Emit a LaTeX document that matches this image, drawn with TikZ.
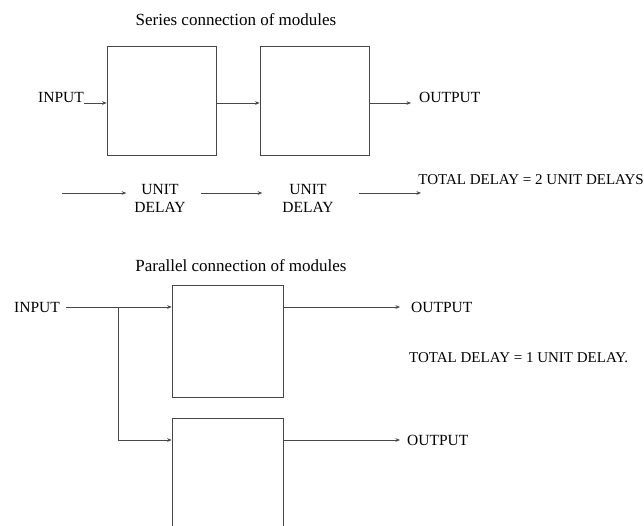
\documentclass[tikz,border=0pt]{standalone}
\usepackage{fontspec}
\setmainfont{Liberation Serif}
\usepackage{tikz}
\usetikzlibrary{arrows.meta,positioning,calc}
\definecolor{scanline}{rgb}{0.28,0.28,0.28}
\tikzset{
  modbox/.style={draw=scanline, line width=0.7pt, inner sep=0pt, minimum width=109pt, minimum height=109pt},
  sig/.style={draw=scanline, line width=0.7pt, -{Stealth[length=1.6mm,width=1.3mm]}},
  lbl/.style={inner sep=0pt, font=\fontsize{15.5}{18}\selectfont},
  ttl/.style={inner sep=0pt, font=\fontsize{17}{20}\selectfont},
}

\begin{document}
\begin{tikzpicture}[x=1pt, y=-1pt]
        \useasboundingbox (0,0) rectangle (644,525);
        \clip (0,0) rectangle (644,525);

        % series connection
        \node[ttl] (sertitle) at (236,20) {Series connection of modules};
        \node[modbox] (s1) at (161.5,100.5) {};
        \node[modbox] (s2) at (314.5,100.5) {};
        \node[lbl, anchor=east] (inS) at (84,97) {INPUT};
        \node[lbl, anchor=west] (outS) at (419,97) {OUTPUT};
        \coordinate (sy) at (0,103);

        \draw[sig] (inS.east |- sy) -- (s1.west |- sy);
        \draw[sig] (s1.east |- sy) -- (s2.west |- sy);
        \draw[sig] (s2.east |- sy) -- ([xshift=-8pt]outS.west |- sy);

        \node[lbl, align=center] (ud1) at (160,198) {UNIT\\DELAY};
        \node[lbl, align=center] (ud2) at (308,198) {UNIT\\DELAY};
        \node[lbl, anchor=east, font=\fontsize{15}{18}\selectfont] (totS) at (644,180) {TOTAL DELAY = 2 UNIT DELAYS};
        \coordinate (c0) at (62,193);
        \coordinate (c3) at (421,193);

        \draw[sig] (c0) -- ([xshift=-8pt]ud1.west |- c0);
        \draw[sig] ([xshift=15pt]ud1.east |- c0) -- ([xshift=-20pt]ud2.west |- c0);
        \draw[sig] ([xshift=25pt]ud2.east |- c0) -- (c3);

        % parallel connection
        \node[ttl] (partitle) at (241,266) {Parallel connection of modules};
        \node[modbox, minimum width=111pt, minimum height=112pt] (p1) at (227.5,341) {};
        \node[modbox, minimum width=111pt, minimum height=130pt, anchor=north] (p2) at (227.5,418) {};
        \node[lbl, anchor=west] (inP) at (14,307) {INPUT};
        \node[lbl, anchor=west] (outP1) at (411,307) {OUTPUT};
        \node[lbl, anchor=west] (outP2) at (407,440) {OUTPUT};
        \node[lbl, anchor=west, font=\fontsize{15}{18}\selectfont] (totP) at (409,358) {TOTAL DELAY = 1 UNIT DELAY.};
        \coordinate (br) at (118,307);
        \coordinate (py) at (0,440);

        \draw[sig] ([xshift=6pt]inP.east) -- (p1.west |- inP);
        \draw[sig] (br) |- (p2.west |- py);
        \draw[sig] (p1.east |- inP) -- ([xshift=-11pt]outP1.west);
        \draw[sig] (p2.east |- py) -- ([xshift=-7pt]outP2.west);
      \end{tikzpicture}
\end{document}
